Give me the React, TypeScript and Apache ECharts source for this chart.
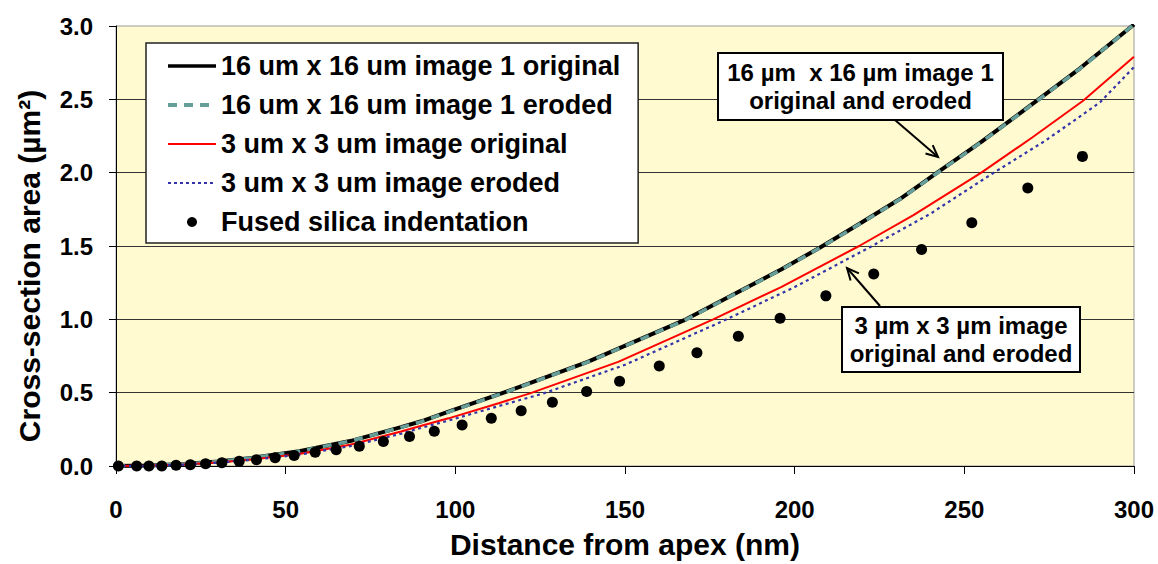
import React, { useEffect, useRef } from "react";
import * as echarts from "echarts";

const FONT = 'Arial, "Liberation Sans", Helvetica, sans-serif';

const seriesNames = [
  "16 um x 16 um image 1 original",
  "16 um x 16 um image 1 eroded",
  "3 um x 3 um image original",
  "3 um x 3 um image eroded",
  "Fused silica indentation",
];

const bigOrigX = [0, 10, 20, 30, 40, 54, 69, 84, 90, 98, 113, 139, 168, 196, 207.5, 219, 231, 242, 255, 269, 284, 300];
const bigOrigY = [0, 0.004, 0.013, 0.03, 0.055, 0.1, 0.17, 0.265, 0.305, 0.37, 0.49, 0.71, 1.0, 1.34, 1.49, 1.65, 1.82, 2.0, 2.21, 2.45, 2.71, 3.01];

const bigErodX = [0, 10, 20, 30, 40, 54, 69, 84, 90, 98, 113, 139, 168, 196, 207.5, 219, 231, 242, 255, 269, 284, 300];
const bigErodY = [0, 0.004, 0.013, 0.03, 0.055, 0.1, 0.17, 0.263, 0.303, 0.368, 0.488, 0.708, 0.998, 1.338, 1.488, 1.648, 1.818, 1.998, 2.208, 2.448, 2.708, 3.01];

const smallOrigX = [0, 10, 20, 30, 40, 54, 69, 84, 90, 98, 113, 122, 148, 176, 196, 219, 235, 255, 270, 285, 300];
const smallOrigY = [0, 0.003, 0.01, 0.024, 0.045, 0.082, 0.145, 0.235, 0.275, 0.325, 0.43, 0.495, 0.71, 1.0, 1.22, 1.5, 1.71, 2.0, 2.24, 2.49, 2.79];

const smallErodX = [0, 10, 20, 30, 40, 54, 69, 84, 90, 98, 113, 126, 150, 179, 200, 222, 240, 258, 274, 290, 300];
const smallErodY = [0, 0.002, 0.009, 0.022, 0.042, 0.077, 0.135, 0.22, 0.26, 0.31, 0.41, 0.495, 0.69, 0.99, 1.22, 1.49, 1.72, 1.99, 2.22, 2.48, 2.72];

const silicaX = [0.7, 6.1, 9.7, 13.5, 17.7, 21.9, 26.4, 31.2, 36.3, 41.4, 46.9, 52.5, 58.7, 64.9, 71.7, 78.8, 86.5, 93.8, 102.0, 110.6, 119.4, 128.6, 138.7, 148.4, 160.1, 171.2, 183.4, 195.7, 209.2, 223.3, 237.4, 252.2, 268.7, 284.8];
const silicaY = [0, 0, 0, 0, 0.005, 0.009, 0.016, 0.022, 0.032, 0.043, 0.056, 0.072, 0.093, 0.111, 0.135, 0.167, 0.201, 0.237, 0.28, 0.325, 0.377, 0.435, 0.508, 0.578, 0.682, 0.772, 0.885, 1.007, 1.16, 1.309, 1.476, 1.659, 1.896, 2.111];

const xTickLabels = ["0", "50", "100", "150", "200", "250", "300"];
const yTickLabels = ["0.0", "0.5", "1.0", "1.5", "2.0", "2.5", "3.0"];

const xAxisTitle = "Distance from apex (nm)";
const yAxisTitle = "Cross-section area (µm²)";
const note1 = "16 µm  x 16 µm image 1\noriginal and eroded";
const note2 = "3 µm x 3 µm image\noriginal and eroded";

const pairs = (xs: number[], ys: number[]) => xs.map((x, i) => [x, ys[i]]);

export default function App() {
  const ref = useRef<HTMLDivElement>(null);
  useEffect(() => {
    if (!ref.current) return;
    const chart = echarts.init(ref.current, undefined, { renderer: "svg" });
    const bold = { fontFamily: FONT, fontWeight: "bold" as const, color: "#000" };
    const hiddenSymbol = { opacity: 0 };
    chart.setOption({
      animation: false,
      backgroundColor: "#fff",
      grid: {
        left: 116,
        right: 24,
        top: 26,
        bottom: 95,
        show: true,
        backgroundColor: "#FFFACF",
        borderColor: "#9a9a9a",
        borderWidth: 1,
      },
      xAxis: {
        type: "value",
        min: 0,
        max: 300,
        interval: 50,
        axisLine: { show: true, onZero: false, lineStyle: { color: "#000", width: 1 } },
        axisTick: { show: true, length: 8, lineStyle: { color: "#000" } },
        axisLabel: {
          ...bold,
          fontSize: 24,
          margin: 31,
          formatter: (v: number) => xTickLabels[Math.round(v / 50)] ?? "",
        },
        splitLine: { show: false },
        name: xAxisTitle,
        nameLocation: "middle",
        nameGap: 63,
        nameTextStyle: { ...bold, fontSize: 30 },
      },
      yAxis: {
        type: "value",
        min: 0,
        max: 3,
        interval: 0.5,
        axisLine: { show: true, lineStyle: { color: "#000", width: 1 } },
        axisTick: { show: true, length: 7, lineStyle: { color: "#000" } },
        axisLabel: {
          ...bold,
          fontSize: 24,
          margin: 23,
          formatter: (v: number) => yTickLabels[Math.round(v / 0.5)] ?? "",
        },
        splitLine: { show: true, showMaxLine: false, lineStyle: { color: "#333", width: 1 } },
        name: yAxisTitle,
        nameLocation: "middle",
        nameRotate: 90,
        nameGap: 72,
        nameTextStyle: { ...bold, fontSize: 30, padding: [0, 40, 0, 0] },
      },
      legend: {
        orient: "vertical",
        left: 146,
        top: 43,
        backgroundColor: "#fff",
        borderColor: "#222",
        borderWidth: 1.5,
        padding: [8, 18, 6, 20],
        itemWidth: 48,
        itemHeight: 10,
        itemGap: 9,
        textStyle: { ...bold, fontSize: 27, lineHeight: 30 },
        data: [
          { name: seriesNames[0], itemStyle: hiddenSymbol, lineStyle: { color: "#000", width: 3.5 } },
          { name: seriesNames[1], itemStyle: hiddenSymbol, lineStyle: { color: "#669e99", width: 4, type: [9, 7] } },
          { name: seriesNames[2], itemStyle: hiddenSymbol, lineStyle: { color: "#ff0000", width: 2 } },
          { name: seriesNames[3], itemStyle: hiddenSymbol, lineStyle: { color: "#3333aa", width: 2, type: [3, 3] } },
          { name: seriesNames[4], icon: "circle", itemStyle: { color: "#000", opacity: 1 } },
        ],
      },
      series: [
        {
          name: seriesNames[0],
          type: "line",
          data: pairs(bigOrigX, bigOrigY),
          symbol: "none",
          lineStyle: { color: "#000", width: 4 },
          itemStyle: { color: "#000", opacity: 0 },
        },
        {
          name: seriesNames[1],
          type: "line",
          data: pairs(bigErodX, bigErodY),
          symbol: "none",
          lineStyle: { color: "#669e99", width: 3.5, type: [9, 7] },
          itemStyle: { color: "#669e99", opacity: 0 },
        },
        {
          name: seriesNames[2],
          type: "line",
          data: pairs(smallOrigX, smallOrigY),
          symbol: "none",
          lineStyle: { color: "#ff0000", width: 2 },
          itemStyle: { color: "#ff0000", opacity: 0 },
        },
        {
          name: seriesNames[3],
          type: "line",
          data: pairs(smallErodX, smallErodY),
          symbol: "none",
          lineStyle: { color: "#3333aa", width: 2.2, type: [3, 3.5] },
          itemStyle: { color: "#3333aa", opacity: 0 },
        },
        {
          name: seriesNames[4],
          type: "scatter",
          data: pairs(silicaX, silicaY),
          symbol: "circle",
          symbolSize: 11,
          itemStyle: { color: "#000", opacity: 1 },
          z: 5,
        },
      ],
      graphic: [
        {
          type: "line",
          shape: { x1: 895, y1: 120, x2: 938, y2: 157 },
          style: { stroke: "#000", lineWidth: 2 },
          z: 10,
        },
        {
          type: "polyline",
          shape: { points: [[932.7, 145.1], [938, 157], [925.5, 153.5]] },
          style: { stroke: "#000", lineWidth: 2, fill: null },
          z: 10,
        },
        {
          type: "line",
          shape: { x1: 880, y1: 306, x2: 847, y2: 268 },
          style: { stroke: "#000", lineWidth: 2 },
          z: 10,
        },
        {
          type: "polyline",
          shape: { points: [[850.6, 280.5], [847, 268], [858.9, 273.3]] },
          style: { stroke: "#000", lineWidth: 2, fill: null },
          z: 10,
        },
        {
          type: "rect",
          shape: { x: 718, y: 53, width: 285, height: 67 },
          style: { fill: "#fff", stroke: "#000", lineWidth: 2 },
          z: 10,
        },
        {
          type: "text",
          x: 860.5,
          y: 86.5,
          style: {
            text: note1,
            font: `bold 24px ${FONT}`,
            fill: "#000",
            align: "center",
            verticalAlign: "middle",
            lineHeight: 28,
          },
          z: 11,
        },
        {
          type: "rect",
          shape: { x: 842, y: 307, width: 238, height: 65 },
          style: { fill: "#fff", stroke: "#000", lineWidth: 2 },
          z: 10,
        },
        {
          type: "text",
          x: 961,
          y: 339.5,
          style: {
            text: note2,
            font: `bold 24px ${FONT}`,
            fill: "#000",
            align: "center",
            verticalAlign: "middle",
            lineHeight: 28,
          },
          z: 11,
        },
      ],
    });
    return () => chart.dispose();
  }, []);
  return (
    <div
      ref={ref}
      style={{ position: "absolute", left: 0, top: 0, width: 1158, height: 564 }}
    />
  );
}
